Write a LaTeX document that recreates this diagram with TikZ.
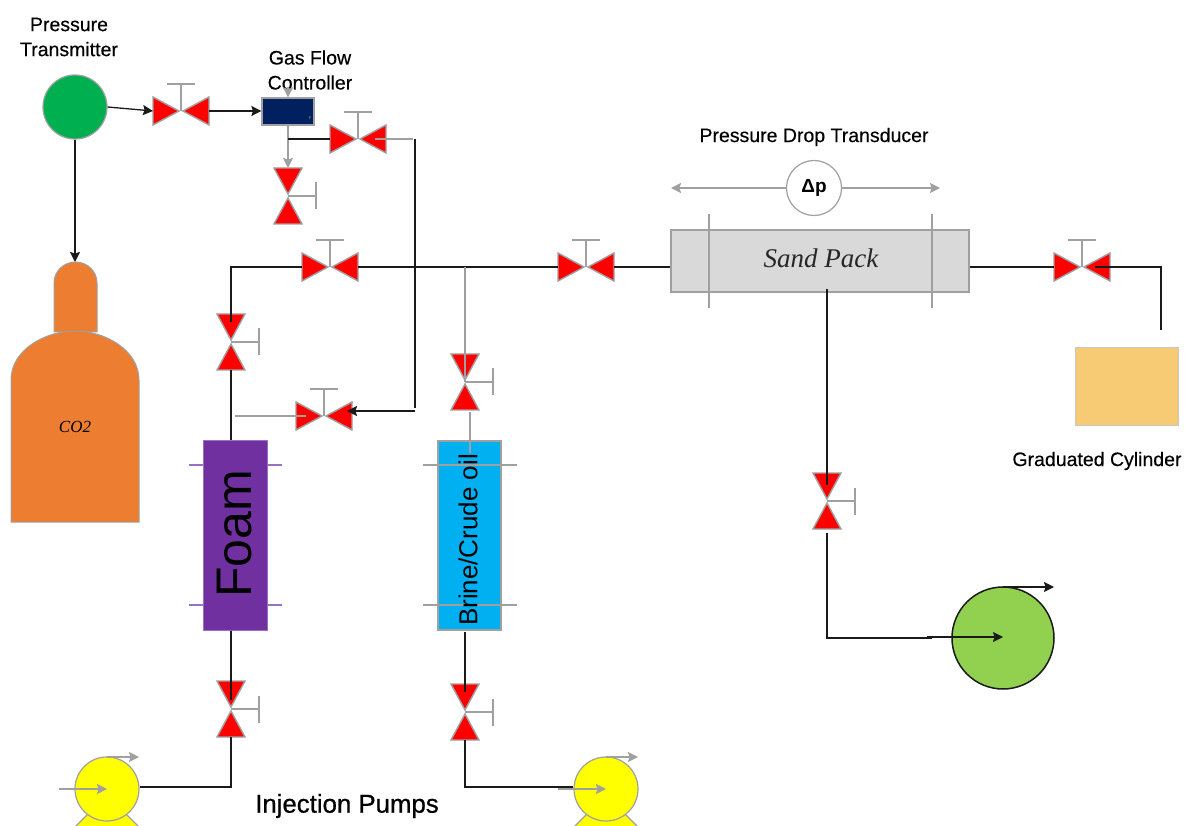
\documentclass[tikz,border=0pt]{standalone}
\usepackage{fontspec}
\setmainfont{Liberation Sans}
\newfontfamily\labfont[FakeBold=0.35]{Liberation Sans}
\newfontfamily\pumpfont[FakeBold=0.7]{Liberation Sans}
\newfontfamily\serifit[ItalicFont=Liberation Serif Italic]{Liberation Serif}
\usetikzlibrary{arrows.meta,calc}
\definecolor{vred}{HTML}{FF0000}
\definecolor{vgrey}{HTML}{A0A0A0}
\definecolor{pipeblack}{HTML}{1A1A1A}
\definecolor{tankorange}{HTML}{ED7D31}
\definecolor{ptgreen}{HTML}{00B050}
\definecolor{navybox}{HTML}{002060}
\definecolor{foampurple}{HTML}{7030A0}
\definecolor{tickpurple}{HTML}{9A70C0}
\definecolor{brineblue}{HTML}{00B0F0}
\definecolor{sandgrey}{HTML}{D9D9D9}
\definecolor{cylinder}{HTML}{F7CB74}
\definecolor{pumpyellow}{HTML}{FFFF00}
\definecolor{pumpgreen}{HTML}{92D050}
\tikzset{
  x=1pt,y=-1pt,
  valvepart/.style={fill=vred,draw=vgrey,line width=1.4pt,line join=miter},
  handle/.style={draw=vgrey,line width=1.2pt},
  pipe/.style={draw=pipeblack,line width=1.6pt},
  pipearrow/.style={draw=pipeblack,line width=1.3pt,-{Stealth[length=10pt,width=10pt,inset=1.5pt]}},
  greypipe/.style={draw=vgrey,line width=1.5pt},
  greyarrow/.style={draw=vgrey,line width=1.5pt,-{Stealth[length=10pt,width=10pt,inset=1.5pt]}},
  lab/.style={font=\labfont\fontsize{19.5}{24}\selectfont,text=black,align=center,inner sep=0pt},
}
\newcommand{\valveH}[3]{%
  \begin{scope}[shift={(#2,#3)}]
    \coordinate (#1) at (0,0);
    \coordinate (#1-l) at (-28,0);
    \coordinate (#1-r) at (28,0);
    \path[valvepart] (-2,0) -- (-28,-14) -- (-28,14) -- cycle;
    \path[valvepart] (2,0) -- (28,-14) -- (28,14) -- cycle;
    \path[handle] (0,0) -- (0,-27) (-14,-27) -- (14,-27);
  \end{scope}}
\newcommand{\valveV}[3]{%
  \begin{scope}[shift={(#2,#3)}]
    \coordinate (#1) at (0,0);
    \coordinate (#1-t) at (0,-28);
    \coordinate (#1-b) at (0,28);
    \path[valvepart] (0,-2) -- (-14,-28) -- (14,-28) -- cycle;
    \path[valvepart] (0,2) -- (-14,28) -- (14,28) -- cycle;
    \path[handle] (0,0) -- (28,0) (28,-13.5) -- (28,13.5);
  \end{scope}}
\newcommand{\pumpY}[3]{%
  \begin{scope}[shift={(#2,#3)}]
    \path[fill=pumpyellow,draw=vgrey,line width=1.2pt] (0,6) -- (-50,56) -- (50,56) -- cycle;
    \node[circle,fill=pumpyellow,draw=vgrey,line width=1.2pt,minimum size=64pt,inner sep=0pt] (#1) at (0,0) {};
    \coordinate (#1-in) at (-48,0);
    \coordinate (#1-c) at (0,0);
    \coordinate (#1-top) at (0,-32);
    \coordinate (#1-out) at (32,-32);
    \path[greyarrow] (#1-in) -- (#1-c);
    \path[greyarrow] (#1-top) -- (#1-out);
  \end{scope}}
\begin{document}
\begin{tikzpicture}
\useasboundingbox (0,0) rectangle (1187,826);
\begin{scope}
\clip (0,0) rectangle (1187,826);

% Labels
\node[lab] (ptlabel) at (69,37) {Pressure\\[1pt]Transmitter};
\node[lab] (gfclabel) at (310,70) {Gas Flow\\[1pt]Controller};
\node[lab] (pdtlabel) at (814,137) {Pressure Drop Transducer};
\node[lab] (gclabel) at (1097,461) {Graduated Cylinder};
\node[lab,font=\pumpfont\fontsize{25.8}{28}\selectfont] (pumplabel) at (347,806) {Injection Pumps};

% Tank
\path[fill=tankorange,draw=vgrey,line width=1pt]
  (54,332) -- (54,283) arc[start angle=180,end angle=360,x radius=21.5,y radius=21] -- (97,332) -- cycle;
\path[fill=tankorange,draw=vgrey,line width=1pt]
  (11,380) .. controls (11,350) and (45,331) .. (75,331)
  .. controls (105,331) and (139,350) .. (139,380) -- (139,522) -- (11,522) -- cycle;
\coordinate (tanktop) at (75,262);
\node[font=\serifit\itshape\fontsize{17}{20}\selectfont,inner sep=0pt] (co2) at (75,427) {CO2};

% Pressure transmitter
\node[circle,fill=ptgreen,draw=vgrey,line width=1.2pt,minimum size=64pt,inner sep=0pt] (pt) at (75,107) {};

% Gas flow controller
\node[rectangle,fill=navybox,draw=vgrey,line width=1.2pt,minimum width=52pt,minimum height=27pt,inner sep=0pt] (gfc) at (288,111.5) {};
\node[font=\fontsize{4}{5}\selectfont,text=vgrey,inner sep=0pt] (gfcf) at (310,118) {F};
\coordinate (gfcin) at (288,87);

% Valves
\valveH{v1}{181}{111}
\valveH{v2}{358}{139}
\valveH{v3}{330}{267}
\valveH{v4}{586}{267}
\valveH{v5}{1082}{267}
\valveH{v6}{324}{416}
\valveV{w1}{288}{196}
\valveV{w2}{231}{342}
\valveV{w3}{465}{382}
\valveV{w4}{827}{501}
\valveV{w5}{231}{709}
\valveV{w6}{465}{712}

% Sand pack
\node[rectangle,fill=sandgrey,draw=vgrey,line width=1.4pt,minimum width=298pt,minimum height=62pt,inner sep=0pt] (sand) at (820,261) {};
\node[font=\serifit\itshape\fontsize{27}{30}\selectfont,text=black!85,inner sep=0pt] (sandlabel) at (821,258) {Sand Pack};
\coordinate (s1t) at (709,214); \coordinate (s1b) at (709,308);
\coordinate (s2t) at (932,214); \coordinate (s2b) at (932,308);
\draw[greypipe,line width=1.2pt] (s1t) -- (s1b);
\draw[greypipe,line width=1.2pt] (s2t) -- (s2b);

% Delta p
\node[circle,fill=white,draw=vgrey,line width=1.2pt,minimum size=55pt,inner sep=0pt,font=\bfseries\fontsize{19}{22}\selectfont] (dp) at (814,188) {Δp};
\coordinate (dpl) at (671,188);
\coordinate (dpr) at (940,188);
\draw[greyarrow,line width=1.2pt] (dp) -- (dpl);
\draw[greyarrow,line width=1.2pt] (dp) -- (dpr);

% Foam vessel
\node[rectangle,fill=foampurple,draw=tickpurple,line width=1pt,minimum width=64pt,minimum height=189pt,inner sep=0pt] (foam) at (235,535.5) {};
\coordinate (f1l) at (189,465); \coordinate (f1r) at (282,465);
\coordinate (f2l) at (189,605); \coordinate (f2r) at (282,605);
\draw[draw=tickpurple,line width=1.3pt] (f1l) -- (foam.west |- f1l) (foam.east |- f1r) -- (f1r);
\draw[draw=tickpurple,line width=1.3pt] (f2l) -- (foam.west |- f2l) (foam.east |- f2r) -- (f2r);
\node[rotate=90,font=\fontsize{50}{54}\selectfont,inner sep=0pt] (foamlabel) at (235,534) {Foam};

% Brine vessel
\node[rectangle,fill=brineblue,draw=vgrey,line width=1.2pt,minimum width=63pt,minimum height=189pt,inner sep=0pt] (brine) at (469.5,535.5) {};
\coordinate (b1l) at (423,465); \coordinate (b1r) at (517,465);
\coordinate (b2l) at (423,605); \coordinate (b2r) at (517,605);
\draw[greypipe,line width=1.3pt] (b1l) -- (b1r);
\draw[greypipe,line width=1.3pt] (b2l) -- (b2r);
\node[rotate=90,font=\fontsize{26}{30}\selectfont,inner sep=0pt] (brinelabel) at (468,540) {Brine/Crude oil};

% Graduated cylinder
\node[rectangle,fill=cylinder,draw=vgrey!60,line width=1pt,minimum width=103pt,minimum height=78pt,inner sep=0pt] (cyl) at (1126.5,387) {};

% Pumps
\pumpY{p1}{107}{789}
\pumpY{p2}{606}{789}
\node[circle,fill=pumpgreen,draw=pipeblack,line width=1.5pt,minimum size=102pt,inner sep=0pt] (p3) at (1003,638) {};
\coordinate (p3c) at (1003,637);
\coordinate (p3top) at (1003,587);
\coordinate (p3out) at (1054,587);
\coordinate (p3in) at (927,637);

% Connectors: upper left
\draw[pipearrow] (pt.east) -- (v1-l);
\draw[pipearrow] (pt.south) -- (tanktop);
\draw[pipearrow] (v1-r) -- (gfc.west |- v1-r);
\draw[greyarrow] (gfcin) -- (gfc.north);
\draw[greyarrow] (gfc.south) -- (w1-t);
\coordinate (gfcj) at (288,139);
\draw[pipe] (gfcj) -- (v2-l);
\coordinate (v2end) at (413,139);
\coordinate (v2in) at (375,139);
\draw[greypipe] (v2in) -- (v2end);
\coordinate (ctop) at (415,139);
\coordinate (cbot) at (415,408);
\coordinate (v6in) at (347,411);
\draw[pipe] (ctop) -- (cbot);
\draw[pipearrow,line width=1.6pt] (cbot |- v6in) -- (v6in);
\coordinate (v6end) at (235,416);
\coordinate (v6out) at (306,416);
\draw[greypipe] (v6end) -- (v6out);

% Connectors: main line
\coordinate (lcorner) at (231,267);
\coordinate (wj) at (231,322);
\draw[pipe] (wj) -- (lcorner) -- (v3-l);
\draw[pipe] (v3-r) -- (v4-l);
\draw[pipe] (v4-r) -- (sand.west |- v4-r);
\draw[pipe] (w2-b) -- (foam.north -| w2-b);
\coordinate (bj) at (465,267);
\draw[greypipe] (bj) -- (w3);
\coordinate (w3out) at (470,412);
\coordinate (brinein) at (470,453);
\draw[greypipe] (w3out) -- (brinein);

% Connectors: bottom
\coordinate (fj) at (231,700);
\coordinate (fc) at (231,787);
\draw[pipe] (foam.south -| fj) -- (fj);
\draw[pipe] (w5-b) -- (fc) -- (p1.east |- fc);
\coordinate (bjb) at (465,692);
\coordinate (bc) at (465,787);
\coordinate (brineout) at (465,632);
\draw[pipe] (brineout) -- (bjb);
\draw[pipe] (w6-b) -- (bc) -- (p2.west |- bc);

% Connectors: right
\draw[pipe] (sand.east |- v5-l) -- (v5-l);
\coordinate (rs) at (1095,267);
\coordinate (rc) at (1161,267);
\coordinate (rb) at (1161,330);
\draw[pipe] (rs) -- (rc) -- (rb);
\coordinate (sdown) at (827,289);
\coordinate (w4j) at (827,485);
\draw[pipe] (sdown) -- (w4j);
\coordinate (w4c) at (827,638);
\coordinate (w4e) at (932,638);
\draw[pipe] (w4-b) ++(0,4) -- (w4c) -- (w4e);
\draw[pipearrow] (p3in) -- (p3c);
\draw[pipearrow] (p3top) -- (p3out);
\end{scope}
\end{tikzpicture}
\end{document}
